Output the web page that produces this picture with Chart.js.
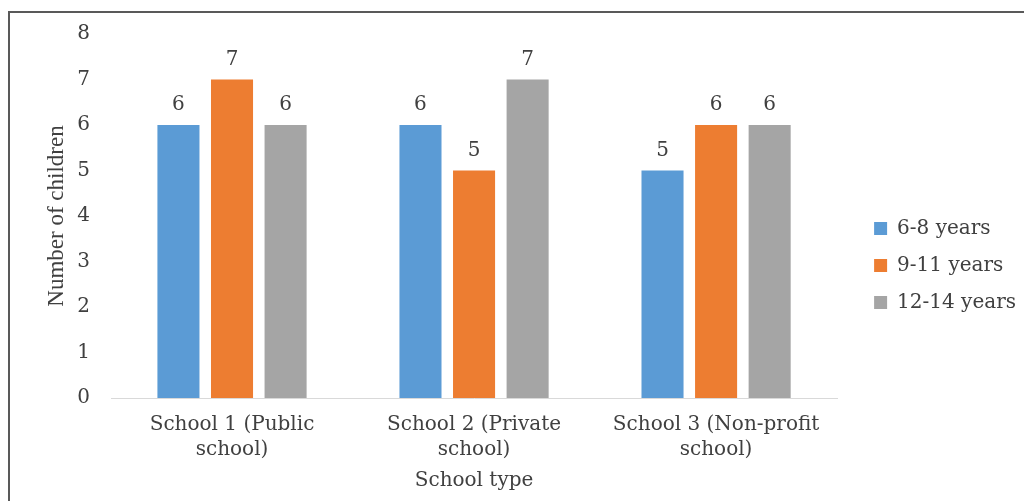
<!DOCTYPE html>
<html>
<head>
<meta charset="utf-8">
<script src="https://cdn.jsdelivr.net/npm/chart.js@4.4.1/dist/chart.umd.min.js"></script>
<style>
    html, body { margin: 0; padding: 0; background: #fff; }
    #wrap { position: relative; width: 1024px; height: 501px; overflow: hidden; }
    #frame { position: absolute; left: 8px; top: 11px; width: 1100px; height: 600px;
             border-left: 2px solid #595959; border-top: 2px solid #595959; }
    #chart { position: absolute; left: 0; top: 0; }
</style>
</head>
<body>
<div id="wrap">
    <div id="frame"></div>
    <canvas id="chart" width="1024" height="501"></canvas>
</div>
<script>
// chart data
const categories = [
    ['School 1 (Public', 'school)'],
    ['School 2 (Private', 'school)'],
    ['School 3 (Non-profit', 'school)']
];
const seriesNames = ['6-8 years', '9-11 years', '12-14 years'];
const age6to8 = [6, 6, 5];
const age9to11 = [7, 5, 6];
const age12to14 = [6, 7, 6];
const yMin = 0;
const yMax = 8;
const yStep = 1;

const colors = ['#5B9BD5', '#ED7D31', '#A5A5A5'];
const textColor = '#404040';
const serif = '"DejaVu Serif", serif';

// numbers above each bar
const barValueLabels = {
    id: 'barValueLabels',
    afterDatasetsDraw(chart) {
        const ctx = chart.ctx;
        ctx.save();
        ctx.font = '20px ' + serif;
        ctx.fillStyle = textColor;
        ctx.textAlign = 'center';
        ctx.textBaseline = 'middle';
        chart.data.datasets.forEach((ds, i) => {
            chart.getDatasetMeta(i).data.forEach((bar, j) => {
                ctx.fillText(String(ds.data[j]), bar.x, bar.y - 20);
            });
        });
        ctx.restore();
    }
};

// nudge the legend to where the original sits
const legendShift = {
    id: 'legendShift',
    afterLayout(chart) {
        const lg = chart.legend;
        if (!lg) return;
        const dx = 20, dy = -2;
        lg.left += dx; lg.right += dx;
        lg.top += dy; lg.bottom += dy;
    }
};

const ctx = document.getElementById('chart');
new Chart(ctx, {
    type: 'bar',
    data: {
        labels: categories,
        datasets: [
            { label: seriesNames[0], data: age6to8, backgroundColor: colors[0] },
            { label: seriesNames[1], data: age9to11, backgroundColor: colors[1] },
            { label: seriesNames[2], data: age12to14, backgroundColor: colors[2] }
        ]
    },
    options: {
        responsive: false,
        maintainAspectRatio: false,
        animation: false,
        devicePixelRatio: 1,
        categoryPercentage: 0.664,
        barPercentage: 0.785,
        layout: { padding: { top: 34, right: 18, bottom: 0, left: 0 } },
        plugins: {
            legend: {
                position: 'right',
                labels: {
                    boxWidth: 13,
                    boxHeight: 13,
                    padding: 17,
                    color: textColor,
                    font: { family: serif, size: 20 }
                }
            },
            tooltip: { enabled: false }
        },
        scales: {
            x: {
                grid: { display: false, drawTicks: false },
                border: { display: true, color: '#D9D9D9', width: 1 },
                ticks: {
                    color: textColor,
                    padding: 14,
                    maxRotation: 0,
                    font: { family: serif, size: 20, lineHeight: 1.25 }
                },
                title: {
                    display: true,
                    text: 'School type',
                    color: textColor,
                    font: { family: serif, size: 20 },
                    padding: { top: 0, bottom: 8 }
                },
                afterFit(scale) { scale.height = 103; }
            },
            y: {
                min: yMin,
                max: yMax,
                grid: { display: false, drawTicks: false },
                border: { display: false },
                ticks: {
                    stepSize: yStep,
                    color: textColor,
                    padding: 21,
                    font: { family: serif, size: 20 }
                },
                title: {
                    display: true,
                    text: 'Number of children',
                    color: textColor,
                    font: { family: '"Liberation Serif", serif', size: 23 },
                    padding: { top: 43, bottom: 0 }
                },
                afterFit(scale) { scale.width = 111; }
            }
        }
    },
    plugins: [barValueLabels, legendShift]
});
</script>
</body>
</html>
